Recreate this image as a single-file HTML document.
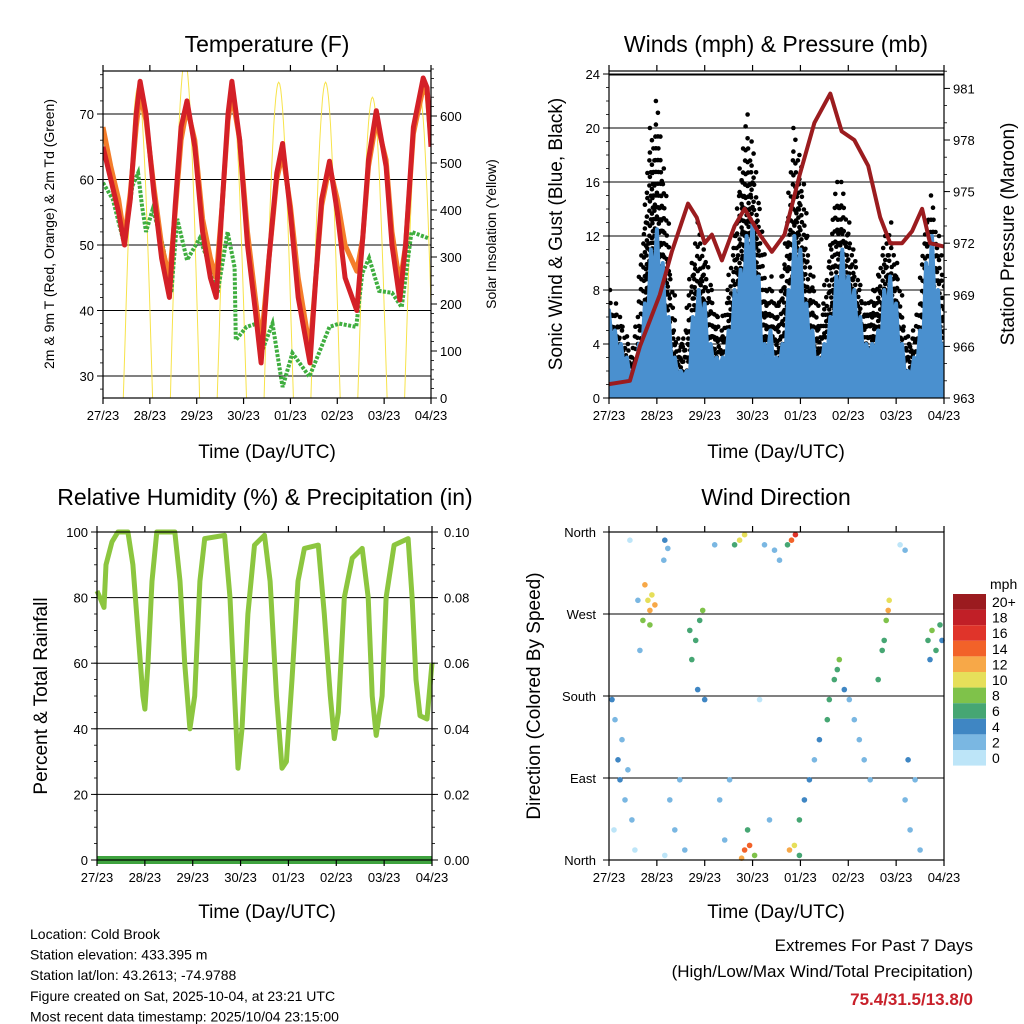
<!DOCTYPE html>
<html><head><meta charset="utf-8"><style>
body{margin:0;background:#fff;}
svg{display:block;font-family:"Liberation Sans",Arial,sans-serif;}
</style></head><body>
<svg id="c" width="1024" height="1024" viewBox="0 0 1024 1024"></svg>
<script>
// ===== Data =====
const dayLabels=["27/23","28/23","29/23","30/23","01/23","02/23","03/23","04/23"];
const redT_h=[0,4,8,11,14,17,19,22,26,30,34,37,40,43,47,51,55,58,61,64,66,70,74,78,81,85,89,92,96,100,106,109,112,116,120,124,130,133,136,140,145,148,152,155,159,164,166,168];
const redT_v=[65,60,55,50,57,70,75,70,58,48,42,56,68,72,65,52,45,42,56,70,75,66,50,40,32,48,61,65.5,55,42,32,45,57,62.8,55,45,40,51,63,70.5,62,50,41.6,50,68,75.5,74,65];
const orgT_h=[0,4,8,11,14,17,19,22,26,30,34,37,40,43,47,51,55,58,61,64,66,70,74,78,81,85,89,92,96,100,106,109,112,116,120,124,130,133,136,140,145,148,152,155,159,164,166,168];
const orgT_v=[68,62,57,51,58,68,73,69,59,50,45,55,66,71,66,54,48,45,56,69,73,66,52,42,35,48,60,64,56,45,34,45,56,62,57,50,46,51,62,69,63,52,44,50,67,74,73,66];
const td_h=[0,5,11,15,18,20,22,25.5,30.6,35,38,43,49.5,54.6,58.7,63.8,67.4,68,73.5,78.6,81.7,86.8,92,97,105.7,116,121,129.7,132.8,136.3,141.4,148,153,158,167];
const td_v=[59.5,57,50,59,61,56,52,55.5,50,42.7,54,47.7,51,47,42.7,52,46.6,35.5,37.5,38,34,38,28.3,33.5,29.9,37.5,38,37.5,45.7,48,43,42.7,40.5,52,51];
const solarPeakH=[17.9,42,66,90,114,138,162];
const solarPeakV=[662,720,650,672,672,640,650];
const windH=[0,3,6,9,12,15,18,21,24,27,30,33,36,39,42,45,48,51,54,57,60,63,66,69,72,75,78,81,84,87,90,93,96,99,102,105,108,111,114,117,120,123,126,129,132,135,138,141,144,147,150,153,156,159,162,165,168];
const windHi=[6.5,5,4,3,2,4,7,11,12.5,10,6,3,2,2,6,8,7,4,3,3,5,8,9.5,12,13,9,4,5,3,4,8,12,11,7,5,3,4,6,9,11,9,8,6,4,4,5,8,9,7,4,2,3,5,10,12,8,4];
const gustHi=[8,7,6,4,3,6,13,20,22,17,10,5,4,5,10,13,11,8,6,5,8,12,17,21,19,14,8,9,6,9,13,20,18,12,9,5,7,11,16,16,13,11,8,7,8,9,12,13,10,6,4,5,7,13,15,12,6];
const pres_h=[0,10.5,15.5,25.5,31.5,39.6,44,48,51.6,56.6,63,68,75.6,81.7,88,95.7,103,111,116.7,123,130,136,141,147,152,157,161,168];
const pres_v=[963.8,964,966,969,971.5,974.3,973.5,972,972.5,971,973,974,972.5,971.5,972.5,976,979,980.7,978.5,978,976.5,973.5,972,972,972.7,974,972,971.8];
const rh_h=[0,1.5,3.5,4.5,7.5,10.5,15.5,18,20.5,23,24,25.6,27.6,30,39,41.6,44,46.6,49,51.6,54,64,66.7,69,70.7,72.7,75.7,79,84,86.8,90,92.8,95,97.8,100.8,104,111,114,117,119,121,124,128,133,136,138,140,143,145,149,156,158,160,162,165.5,168];
const rh_v=[82,80,77,90,97,100,100,90,70,50,46,60,85,100,100,85,60,40,50,85,98,99,80,50,28,40,75,96,99,85,50,28,30,55,85,95,96,75,50,37,45,80,92,95,80,50,38,50,80,96,98,80,55,44,43,60];
const precip_h=[0,168];
const precip_v=[0,0];
const wd_h=[1.5,3,4.5,6.5,8,9.5,11.5,13,10.5,14.5,15.5,5.5,2.5,18,19.5,20.5,21.5,23,20.5,17,28,29.5,27.5,30.5,33,35.5,38,28,41.5,43.5,45.5,47,44.5,48,40.5,53,55.5,58,60.5,65.5,68,63,68,70.5,73,66.5,69.5,78,83,85.5,80.5,75.5,91.5,93.5,89.5,90.5,93,95.5,98,100.5,103,105.5,95.5,110.5,113,115.5,118,109.5,114.5,123,125.5,128,120.5,131,135,137,139,140.5,138,140,146,148.5,148.5,151,153.5,156,150,160,162,164,166,161,167];
const wd_d=[176,154,110,132,66,99,44,11,351,285,230,88,33,302,285,274,291,280,258,263,351,342,329,66,33,88,11,5,220,241,263,274,187,176,252,346,66,22,88,351,357,346,11,16,5,2,33,346,340,329,44,176,351,357,346,11,16,5,66,88,110,132,44,176,198,220,187,154,209,154,132,110,176,88,198,230,263,285,241,274,346,340,66,33,88,11,110,241,252,230,258,220,241];
const wd_s=[4,3,4,2,3,2,2,1,1,2,3,5,1,12,11,13,10,12,8,9,4,3,2,3,2,3,2,1,7,7,6,8,5,4,6,3,3,2,2,10,11,6,14,15,8,12,6,3,2,3,2,1,14,16,7,12,10,6,5,4,3,5,7,6,7,8,5,6,6,2,3,2,3,3,6,7,8,10,6,12,1,2,3,2,3,2,4,7,8,6,7,5,4];
const cbLabels=["20+","18","16","14","12","10","8","6","4","2","0"];
const cbColors=["#9b1b1f","#c11f27","#e0342a","#f26229","#f7a848","#e6df5a","#7fc24a","#46a673","#3f86c3","#7ab7e2","#bde5f8"];

const NS="http://www.w3.org/2000/svg";
const svg=document.getElementById('c');
function el(tag,attrs,parent){const e=document.createElementNS(NS,tag);for(const k in attrs)e.setAttribute(k,attrs[k]);(parent||svg).appendChild(e);return e;}
function txt(s,x,y,size,anchor,parent,extra){const t=el('text',Object.assign({x:x,y:y,'font-size':size,'text-anchor':anchor||'middle',fill:'#000'},extra||{}),parent);t.textContent=s;return t;}
function pathFrom(hs,vs,fx,fy){let d='';for(let i=0;i<hs.length;i++)d+=(i?'L':'M')+fx(hs[i]).toFixed(1)+','+fy(vs[i]).toFixed(1);return d;}
function frame(g,L,T,R,B){el('rect',{x:L,y:T,width:R-L,height:B-T,fill:'none',stroke:'#000','stroke-width':1.2},g);}
function xTicks(g,L,R,T,B,fx){
  for(let i=0;i<=7;i++){const x=fx(i*24);
    el('line',{x1:x,y1:B,x2:x,y2:B+6,stroke:'#000','stroke-width':1.2},g);
    el('line',{x1:x,y1:T,x2:x,y2:T-6,stroke:'#000','stroke-width':1.2},g);
    const t=txt(dayLabels[i],x,B+22,13,'middle',g);
    }
}

// ===== Panel 1 =====
(function(){
 const g=el('g',{});
 const L=103,R=431,T=71,B=398;
 const fx=h=>L+(R-L)*h/168, fy=v=>376-(v-30)*6.55, fs=s=>398-s*0.47;
 const cp=el('clipPath',{id:'cp1'},g);el('rect',{x:L,y:T,width:R-L,height:B-T},cp);
 [30,40,50,60,70].forEach(v=>{el('line',{x1:L,y1:fy(v),x2:R,y2:fy(v),stroke:'#000','stroke-width':1},g);});
 const pg=el('g',{'clip-path':'url(#cp1)'},g);
 solarPeakH.forEach((ph,i)=>{let d='';for(let k=-7.5;k<=7.5;k+=0.5){const v=solarPeakV[i]*Math.max(0,Math.cos(k/7.5*Math.PI/2));d+=(d?'L':'M')+fx(ph+k).toFixed(1)+','+fs(v).toFixed(1);}
   const p=el('path',{d:d,fill:'none',stroke:'#f7e34a','stroke-width':1},pg);});
 let p=el('path',{d:pathFrom(td_h,td_v,fx,fy),fill:'none',stroke:'#3fae3f','stroke-width':4,'stroke-dasharray':'3 1.5'},pg);
 p=el('path',{d:pathFrom(orgT_h,orgT_v,fx,fy),fill:'none',stroke:'#f47d2a','stroke-width':5,'stroke-linejoin':'round'},pg);
 p=el('path',{d:pathFrom(redT_h,redT_v,fx,fy),fill:'none',stroke:'#d42027','stroke-width':5,'stroke-linejoin':'round'},pg);
 frame(g,L,T,R,B);
 xTicks(g,L,R,T,B,fx);
 [30,40,50,60,70].forEach(v=>{el('line',{x1:L-6,y1:fy(v),x2:L,y2:fy(v),stroke:'#000'},g);txt(String(v),L-9,fy(v)+5,13,'end',g);});
 for(let v=28;v<=76;v+=2){el('line',{x1:L-3,y1:fy(v),x2:L,y2:fy(v),stroke:'#000','stroke-width':0.8},g);}
 [0,100,200,300,400,500,600].forEach(v=>{el('line',{x1:R,y1:fs(v),x2:R+6,y2:fs(v),stroke:'#000'},g);txt(String(v),R+9,fs(v)+5,13,'start',g);});
 for(let v=0;v<=700;v+=20){el('line',{x1:R,y1:fs(v),x2:R+3,y2:fs(v),stroke:'#000','stroke-width':0.8},g);}
 let t=txt('Temperature (F)',267,52,23,'middle',g);
 t=txt('Time (Day/UTC)',267,458,19,'middle',g);
 t=txt('2m & 9m T (Red, Orange) & 2m Td (Green)',0,0,14,'middle',g,{transform:'translate(54,234) rotate(-90)'});
 t=txt('Solar Insolation (Yellow)',0,0,14,'middle',g,{transform:'translate(496,234) rotate(-90)'});
})();

// ===== Panel 2 =====
(function(){
 const g=el('g',{});
 const L=609,R=944,T=71,B=398;
 const fx=h=>L+(R-L)*h/168, fy=v=>398-v*13.5, fp=v=>398-(v-963)*17.2;
 const cp=el('clipPath',{id:'cp2'},g);el('rect',{x:L,y:T,width:R-L,height:B-T},cp);
 [0,4,8,12,16,20,24].forEach(v=>{el('line',{x1:L,y1:fy(v),x2:R,y2:fy(v),stroke:'#000','stroke-width':1},g);});
 const pg=el('g',{'clip-path':'url(#cp2)'},g);
 // gust dots cloud
 const offs=[-5,-2.5,0,2.5,5];
 for(let i=0;i<windH.length;i++){
   const x=fx(windH[i]);
   offs.forEach((o,j)=>{
     const top=gustHi[i]*(1-0.12*Math.abs(j-2));
     const bot=windHi[i]*0.5;
     const n=Math.max(1,Math.round((top-bot)/0.9));
     for(let k=0;k<=n;k++){const v=bot+(top-bot)*k/n;
       const c=el('circle',{cx:(x+o+((k%2)?1:-1)).toFixed(1),cy:fy(v).toFixed(1),r:2.3,fill:'#000'},pg);
       }
   });
 }
 // wind area
 let d='M'+fx(windH[0]).toFixed(1)+','+fy(0);
 for(let i=0;i<windH.length;i++){d+='L'+fx(windH[i]).toFixed(1)+','+fy(windHi[i]).toFixed(1);
   if(i<windH.length-1){const xm=(fx(windH[i])+fx(windH[i+1]))/2;d+='L'+xm.toFixed(1)+','+fy(Math.min(windHi[i],windHi[i+1])*0.75).toFixed(1);}}
 d+='L'+fx(168).toFixed(1)+','+fy(0)+'Z';
 let a=el('path',{d:d,fill:'#4a90cf',stroke:'#4a90cf','stroke-width':4,'stroke-linejoin':'round'},pg);
 const p=el('path',{d:pathFrom(pres_h,pres_v,fx,fp),fill:'none',stroke:'#9b1c1f','stroke-width':4,'stroke-linejoin':'round'},pg);
 el('line',{x1:L,y1:75,x2:R,y2:75,stroke:'#000'},g);
 frame(g,L,T,R,B);
 xTicks(g,L,R,T,B,fx);
 [0,4,8,12,16,20,24].forEach(v=>{el('line',{x1:L-6,y1:fy(v),x2:L,y2:fy(v),stroke:'#000'},g);txt(String(v),L-9,fy(v)+5,13,'end',g);});
 for(let v=0;v<=24;v+=1){el('line',{x1:L-3,y1:fy(v),x2:L,y2:fy(v),stroke:'#000','stroke-width':0.8},g);}
 [963,966,969,972,975,978,981].forEach(v=>{el('line',{x1:R,y1:fp(v),x2:R+6,y2:fp(v),stroke:'#000'},g);txt(String(v),R+9,fp(v)+5,13,'start',g);});
 for(let v=963;v<=982;v+=1){el('line',{x1:R,y1:fp(v),x2:R+3,y2:fp(v),stroke:'#000','stroke-width':0.8},g);}
 let t=txt('Winds (mph) & Pressure (mb)',776,52,23,'middle',g);
 t=txt('Time (Day/UTC)',776,458,19,'middle',g);
 t=txt('Sonic Wind & Gust (Blue, Black)',0,0,19,'middle',g,{transform:'translate(562,234) rotate(-90)'});
 t=txt('Station Pressure (Maroon)',0,0,19,'middle',g,{transform:'translate(1014,234) rotate(-90)'});
})();

// ===== Panel 3 =====
(function(){
 const g=el('g',{});
 const L=97,R=432,T=532,B=860;
 const fx=h=>L+(R-L)*h/168, fy=v=>860-v*3.28, fq=v=>860-v*3280;
 [0,20,40,60,80,100].forEach(v=>{el('line',{x1:L,y1:fy(v),x2:R,y2:fy(v),stroke:'#000','stroke-width':1},g);});
 let p=el('path',{d:pathFrom(rh_h,rh_v,fx,fy),fill:'none',stroke:'#8cc63f','stroke-width':5,'stroke-linejoin':'round'},g);
 p=el('path',{d:pathFrom(precip_h,precip_v,fx,fq),fill:'none',stroke:'#3fa33f','stroke-width':8},g);
 frame(g,L,T,R,B);
 xTicks(g,L,R,T,B,fx);
 [0,20,40,60,80,100].forEach(v=>{el('line',{x1:L-6,y1:fy(v),x2:L,y2:fy(v),stroke:'#000'},g);txt(String(v),L-9,fy(v)+5,13,'end',g);});
 for(let v=0;v<=100;v+=5){el('line',{x1:L-3,y1:fy(v),x2:L,y2:fy(v),stroke:'#000','stroke-width':0.8},g);}
 ["0.00","0.02","0.04","0.06","0.08","0.10"].forEach((s,i)=>{const y=fq(i*0.02);el('line',{x1:R,y1:y,x2:R+6,y2:y,stroke:'#000'},g);txt(s,R+12,y+5,13,'start',g);});
 for(let v=0;v<=0.1001;v+=0.005){el('line',{x1:R,y1:fq(v),x2:R+3,y2:fq(v),stroke:'#000','stroke-width':0.8},g);}
 let t=txt('Relative Humidity (%) & Precipitation (in)',265,505,23,'middle',g);
 t=txt('Time (Day/UTC)',267,918,19,'middle',g);
 t=txt('Percent & Total Rainfall',0,0,19,'middle',g,{transform:'translate(47,696) rotate(-90)'});
})();

// ===== Panel 4 =====
(function(){
 const g=el('g',{});
 const L=609,R=944,T=532,B=860;
 const fx=h=>L+(R-L)*h/168, fy=d=>860-d*328/360;
 const names=["North","East","South","West","North"];
 [0,90,180,270,360].forEach((d,i)=>{el('line',{x1:L,y1:fy(d),x2:R,y2:fy(d),stroke:'#000','stroke-width':1},g);
   el('line',{x1:L-6,y1:fy(d),x2:L,y2:fy(d),stroke:'#000'},g);txt(names[i],L-13,fy(d)+5,13,'end',g);});
 for(let i=0;i<wd_h.length;i++){
   const ci=Math.max(0,10-Math.min(10,Math.floor(wd_s[i]/2)));
   const c=el('circle',{cx:fx(wd_h[i]).toFixed(1),cy:fy(wd_d[i]).toFixed(1),r:2.8,fill:cbColors[ci]},g);
   }
 frame(g,L,T,R,B);
 xTicks(g,L,R,T,B,fx);
 let t=txt('Wind Direction',776,505,23,'middle',g);
 t=txt('Time (Day/UTC)',776,918,19,'middle',g);
 t=txt('Direction (Colored By Speed)',0,0,19,'middle',g,{transform:'translate(540,696) rotate(-90)'});
 const cb=el('g',{},g);
 txt('mph',990,589,14,'start',cb);
 cbColors.forEach((col,i)=>{const y=594+i*15.6;el('rect',{x:953,y:y,width:33,height:15.6,fill:col},cb);
   const l=txt(cbLabels[i],992,y+13,14,'start',cb);});
})();

// ===== Footer =====
(function(){
 const g=el('g',{});
 ["Location: Cold Brook","Station elevation: 433.395 m","Station lat/lon: 43.2613; -74.9788","Figure created on Sat, 2025-10-04, at 23:21 UTC","Most recent data timestamp: 2025/10/04 23:15:00"].forEach((s,i)=>txt(s,30,939+i*20.6,14,'start',g));
 const e=el('g',{});
 txt('Extremes For Past 7 Days',973,951,17,'end',e);
 txt('(High/Low/Max Wind/Total Precipitation)',973,977,17,'end',e);
 txt('75.4/31.5/13.8/0',973,1005,17,'end',e,{fill:'#c8202a','font-weight':'bold'});
})();
</script>
</body></html>
